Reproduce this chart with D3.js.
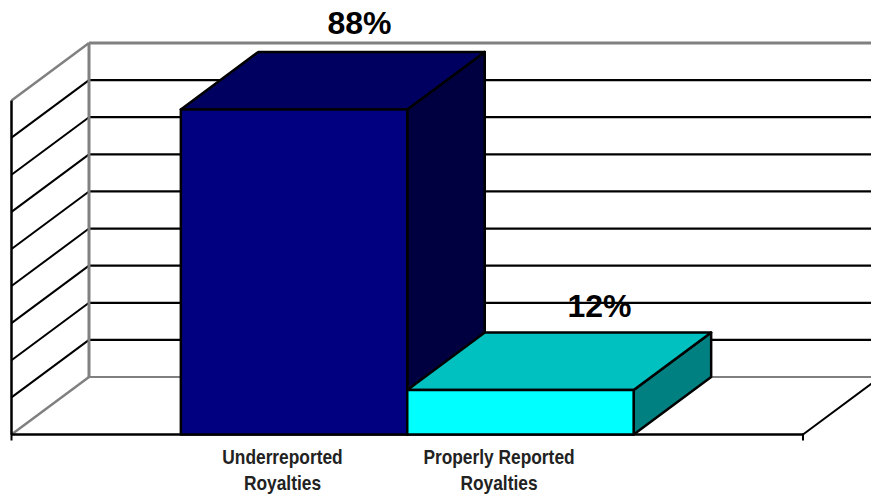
<!DOCTYPE html>
<html><head><meta charset="utf-8">
<script src="https://cdn.jsdelivr.net/npm/d3@7"></script>
<style>html,body{margin:0;padding:0;background:#fff}svg{display:block}</style>
</head><body><svg id="c" width="871" height="494"></svg>
<script>
const categories = ["Underreported|Royalties", "Properly Reported|Royalties"];
const values = [87.6, 12];
const valueLabels = ["88%", "12%"];
const tickValues = [0,10,20,30,40,50,60,70,80,90];
const frontColors = ["#000080", "#00ffff"];
const topColors = ["#000060", "#00c0c0"];
const sideColors = ["#000040", "#008080"];

const svg = d3.select("#c");
const depth = {dx: 77.5, dy: -57.5};
const floorY = 434.5, left = 11.5, right = 803;
const y = d3.scaleLinear().domain([0, 90]).range([floorY, floorY - 334]);
const x = d3.scaleBand().domain(categories).range([left, right]).paddingInner(0).paddingOuter(0.748);

const line = (g, x1, y1, x2, y2, color, w) =>
  g.append("line").attr("x1", x1).attr("y1", y1).attr("x2", x2).attr("y2", y2)
    .attr("stroke", color).attr("stroke-width", w);

const walls = svg.append("g");
tickValues.forEach(t => {
  const isEdge = t === 0 || t === 90;
  const c = isEdge ? "#808080" : "#000";
  line(walls, left, y(t), left + depth.dx, y(t) + depth.dy, c, isEdge ? 2.5 : 2);
  line(walls, left + depth.dx, y(t) + depth.dy, 880, y(t) + depth.dy, c, t === 90 ? 3 : 2.2);
});
line(walls, left + depth.dx, y(90) + depth.dy, left + depth.dx, y(0) + depth.dy, "#808080", 3);
line(walls, left, y(90), left, floorY, "#000", 2.5);
line(walls, left, floorY, right, floorY, "#000", 2.5);
line(walls, left, floorY - 1, left, floorY + 6, "#000", 2);
line(walls, right, floorY - 1, right, floorY + 6, "#000", 2);
line(walls, right, floorY, right + depth.dx, floorY + depth.dy, "#000", 2);

const poly = (g, pts, fill) => g.append("polygon")
  .attr("points", pts.map(p => p.join(",")).join(" "))
  .attr("fill", fill).attr("stroke", "#000").attr("stroke-width", 2.5).attr("stroke-linejoin", "round");

categories.forEach((c, i) => {
  const g = svg.append("g");
  const x0 = x(c), x1 = x0 + x.bandwidth(), yt = y(values[i]), d = depth;
  poly(g, [[x1, floorY], [x1, yt], [x1 + d.dx, yt + d.dy], [x1 + d.dx, floorY + d.dy]], sideColors[i]);
  poly(g, [[x0, yt], [x1, yt], [x1 + d.dx, yt + d.dy], [x0 + d.dx, yt + d.dy]], topColors[i]);
  poly(g, [[x0, floorY], [x0, yt], [x1, yt], [x1, floorY]], frontColors[i]);
});

const font = "'Liberation Sans', Arial, sans-serif";
const valueLabelX = [359.5, 599.5];
const valueLabelY = [34, 317];
valueLabels.forEach((t, i) => svg.append("text").text(t)
  .attr("x", valueLabelX[i]).attr("y", valueLabelY[i])
  .attr("text-anchor", "middle").attr("font-family", font)
  .attr("font-weight", "bold").attr("font-size", 32).attr("fill", "#000"));

const labelX = [282.5, 499];
categories.forEach((c, i) => c.split("|").forEach((t, j) => svg.append("text").text(t)
  .attr("x", labelX[i]).attr("y", 464 + j * 26)
  .attr("text-anchor", "middle").attr("font-family", font)
  .attr("font-weight", "bold").attr("font-size", 19.5)
  .attr("transform", `translate(${labelX[i]},0) scale(0.89,1) translate(${-labelX[i]},0)`)
  .attr("fill", "#222")));
</script></body></html>
